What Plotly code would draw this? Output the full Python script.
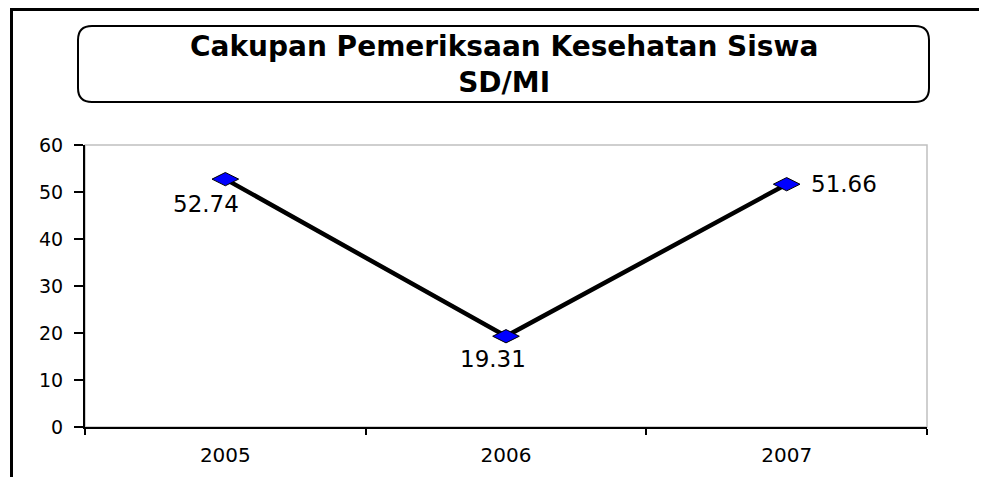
import plotly.graph_objects as go

# ---- data ----
years = ["2005", "2006", "2007"]
values = [52.74, 19.31, 51.66]
value_labels = ["52.74", "19.31", "51.66"]
y_ticks = [0, 10, 20, 30, 40, 50, 60]
title_lines = ["Cakupan Pemeriksaan Kesehatan Siswa", "SD/MI"]

# ---- geometry / style ----
OFF = 8  # page body margin offset
FW, FH = 987, 477
# target page-pixel plot area
PL, PR, PT, PB = 85, 927, 145, 427
ML, MT = PL - OFF, PT - OFF
MR = FW - (PR - OFF)
MB = FH - (PB - OFF)
PW = PR - PL
PH = PB - PT
FONT = "DejaVu Sans, Arial, sans-serif"

def fx(px):
    return (px - PL) / PW

def fy(py):
    return (PB - py) / PH

# label offsets (pixels) and anchors
label_style = [
    dict(xshift=-19, yshift=-25, xanchor="center"),
    dict(xshift=-13, yshift=-23, xanchor="center"),
    dict(xshift=22, yshift=0, xanchor="left"),
]

fig = go.Figure()
fig.add_trace(go.Scatter(
    x=years, y=values, mode="lines+markers",
    line=dict(color="black", width=4.5),
    marker=dict(symbol="diamond-wide", size=19, color="#0000ff",
                line=dict(color="black", width=1)),
    hoverinfo="x+y", showlegend=False,
))

annotations = []
for i, (v, lab, st) in enumerate(zip(values, value_labels, label_style)):
    annotations.append(dict(
        x=i, y=v, xref="x", yref="y", text=lab, showarrow=False,
        xanchor=st["xanchor"], yanchor="middle",
        xshift=st["xshift"], yshift=st["yshift"],
        font=dict(family=FONT, size=23, color="black"),
    ))

# title
annotations.append(dict(
    x=fx(504), y=fy(64), xref="paper", yref="paper",
    text="<b>" + "<br>".join(title_lines) + "</b>", showarrow=False,
    xanchor="center", yanchor="middle", align="center",
    font=dict(family=FONT, size=28, color="black"),
))

# rounded title box path (paper coordinates)
bx0, bx1, by0, by1, r = 78, 929, 26, 102, 14
rx, ry = r / PW, r / PH
X0, X1 = fx(bx0), fx(bx1)
Yt, Yb = fy(by0), fy(by1)
path = (
    f"M {X0 + rx},{Yt} L {X1 - rx},{Yt} Q {X1},{Yt} {X1},{Yt - ry} "
    f"L {X1},{Yb + ry} Q {X1},{Yb} {X1 - rx},{Yb} "
    f"L {X0 + rx},{Yb} Q {X0},{Yb} {X0},{Yb + ry} "
    f"L {X0},{Yt - ry} Q {X0},{Yt} {X0 + rx},{Yt} Z"
)

shapes = [
    # plot-area gray border (top/right)
    dict(type="rect", xref="paper", yref="paper", x0=0, x1=1, y0=0, y1=1,
         line=dict(color="#c0c0c0", width=1.5), layer="below"),
    # outer frame (top and left visible)
    dict(type="rect", xref="paper", yref="paper",
         x0=fx(11.5), x1=fx(1100), y0=fy(600), y1=fy(9.5),
         line=dict(color="black", width=3)),
    # title box
    dict(type="path", xref="paper", yref="paper", path=path,
         line=dict(color="black", width=2), fillcolor="white"),
]

fig.update_layout(
    width=FW, height=FH,
    margin=dict(l=ML, r=MR, t=MT, b=MB, pad=0),
    paper_bgcolor="white", plot_bgcolor="white",
    font=dict(family=FONT, color="black"),
    showlegend=False,
    annotations=annotations,
    shapes=shapes,
)
fig.update_xaxes(
    type="category", range=[-0.5, 2.5],
    showline=True, linecolor="black", linewidth=2,
    ticks="outside", tickson="boundaries", ticklen=6, tickwidth=1.5, tickcolor="black",
    ticklabelstandoff=9,
    showgrid=False, zeroline=False,
    tickfont=dict(family=FONT, size=20, color="black"),
)
fig.update_yaxes(
    range=[0, 60], tickvals=y_ticks,
    showline=True, linecolor="black", linewidth=2,
    ticks="outside", ticklen=9, tickwidth=1.5, tickcolor="black",
    ticklabelstandoff=7,
    showgrid=False, zeroline=False,
    tickfont=dict(family=FONT, size=19, color="black"),
)

fig.write_html("out.html")
